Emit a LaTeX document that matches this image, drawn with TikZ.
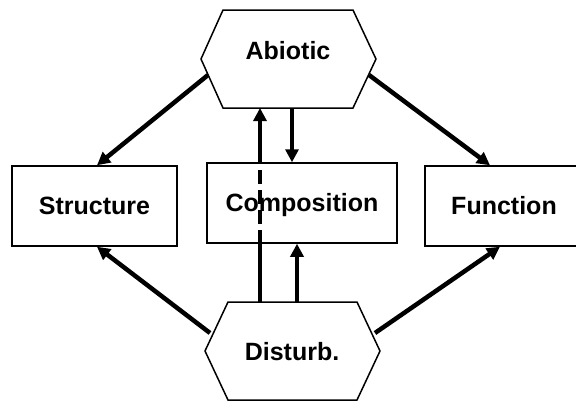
\documentclass[tikz,border=0pt]{standalone}
\usepackage{fontspec}
\setmainfont{Liberation Sans}
\usetikzlibrary{arrows.meta,calc}
\begin{document}
\begin{tikzpicture}[x=1pt,y=-1pt,
  boxnode/.style={draw,line width=1.5pt,minimum height=80pt,inner sep=0pt,font=\fontsize{25}{28}\selectfont\bfseries},
  hexlabel/.style={inner sep=0pt,font=\fontsize{25}{28}\selectfont\bfseries},
  hexline/.style={draw,line width=1.5pt,line join=miter},
  conn/.style={line width=4.5pt,-{Triangle[length=13pt,width=13pt]}},
  connplain/.style={line width=4.5pt}]
\useasboundingbox (0,0) rectangle (576,405);
\begin{scope}
\clip (0,0) rectangle (576,405);
% Abiotic hexagon
\coordinate (a1) at (201,59);
\coordinate (a2) at (223,10);
\coordinate (a3) at (353,10);
\coordinate (a4) at (376,59);
\coordinate (a5) at (353,108);
\coordinate (a6) at (223,108);
\path[hexline,fill=white] (a1) -- (a2) -- (a3) -- (a4) -- (a5) -- (a6) -- cycle;
\node[hexlabel] (abiotic) at (288,51) {Abiotic};
% Disturb hexagon
\coordinate (d1) at (205,351);
\coordinate (d2) at (228,302);
\coordinate (d3) at (357,302);
\coordinate (d4) at (380,351);
\coordinate (d5) at (357,400);
\coordinate (d6) at (228,400);
\path[hexline,fill=white] (d1) -- (d2) -- (d3) -- (d4) -- (d5) -- (d6) -- cycle;
\node[hexlabel] (disturb) at (292,352) {Disturb.};
% boxes
\node[boxnode,minimum width=165pt] (structure) at (94.5,206) {Structure};
\node[boxnode,minimum width=190pt,text depth=2pt] (composition) at (302,203) {Composition};
\node[boxnode,minimum width=158pt] (function) at (504,206) {Function};
% connector end points on the hexagon edges
\coordinate (abSW) at (208,75);
\coordinate (abSE) at (369,75);
\coordinate (dNW) at (210,333);
\coordinate (dNE) at (375,333);
\coordinate (abB1) at (260,108);
\coordinate (abB2) at (292,108);
\coordinate (dT1) at (260,302);
\coordinate (dT2) at (297,302);
% diagonal arrows
\draw[conn] (abSW) -- ([xshift=2.5pt]structure.north);
\draw[conn] (abSE) -- ([xshift=-14pt]function.north);
\draw[conn] (dNW) -- ([xshift=2.5pt]structure.south);
\draw[conn] (dNE) -- ([xshift=-4pt]function.south);
% vertical arrows
\draw[conn] (abB2) -- (abB2 |- composition.north);
\draw[conn] (dT2) -- (dT2 |- composition.south);
\draw[connplain] (dT1) -- (dT1 |- composition.south);
\draw[connplain,dash pattern=on 14pt off 6pt] (dT1 |- composition.south) -- (dT1 |- composition.north);
\draw[conn] (dT1 |- composition.north) -- (abB1);
\end{scope}
\end{tikzpicture}
\end{document}
